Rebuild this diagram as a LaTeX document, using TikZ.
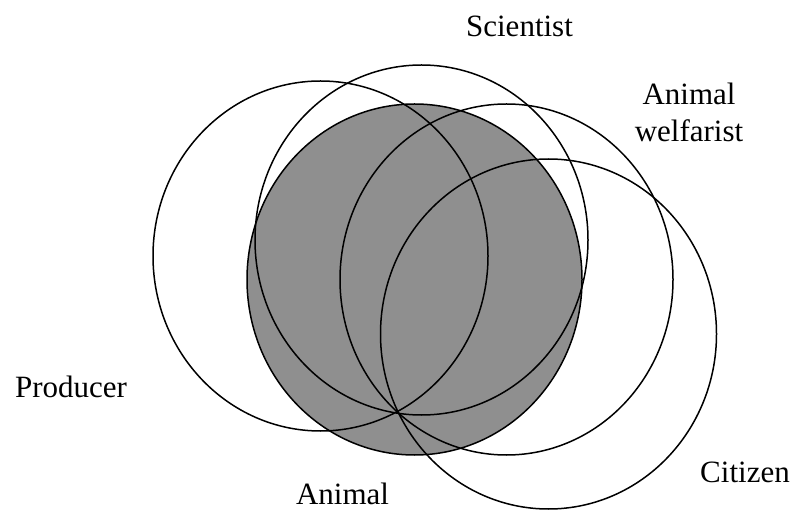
\documentclass[tikz,border=0pt]{standalone}
\usepackage{fontspec}
\setmainfont{Liberation Serif}
\usepackage{tikz}
\definecolor{animalgrey}{RGB}{143,143,143}
\tikzset{
	ring/.style={line width=1.5pt, draw=black},
	lbl/.style={font=\fontsize{31}{37}\selectfont, inner sep=0pt, anchor=base, align=center}
}

\begin{document}
\begin{tikzpicture}[x=1pt, y=-1pt]
			%%%%% START %%%%%
			\useasboundingbox (0, 0) rectangle (800, 510);
			
			\draw[ring, fill=animalgrey] (414.5, 279.5) ellipse [x radius=167.5pt, y radius=175.5pt];
			
			\draw[ring] (320.5, 256) ellipse [x radius=167.5pt, y radius=175pt];
			\draw[ring] (421.5, 240) ellipse [x radius=166.5pt, y radius=175pt];
			\draw[ring] (506.5, 279.5) ellipse [x radius=166.5pt, y radius=175.5pt];
			\draw[ring] (548.5, 334) ellipse [x radius=168pt, y radius=175pt];
			
			\node[lbl] (scientist) at (519.5, 37) {Scientist};
			\node[lbl] (welfarist) at (689, 142) {Animal\\welfarist};
			\node[lbl] (producer) at (71, 397) {Producer};
			\node[lbl] (citizen) at (745, 482) {Citizen};
			\node[lbl] (animal) at (342.5, 504) {Animal};
			
			%%%%% END %%%%%
\end{tikzpicture}
\end{document}
